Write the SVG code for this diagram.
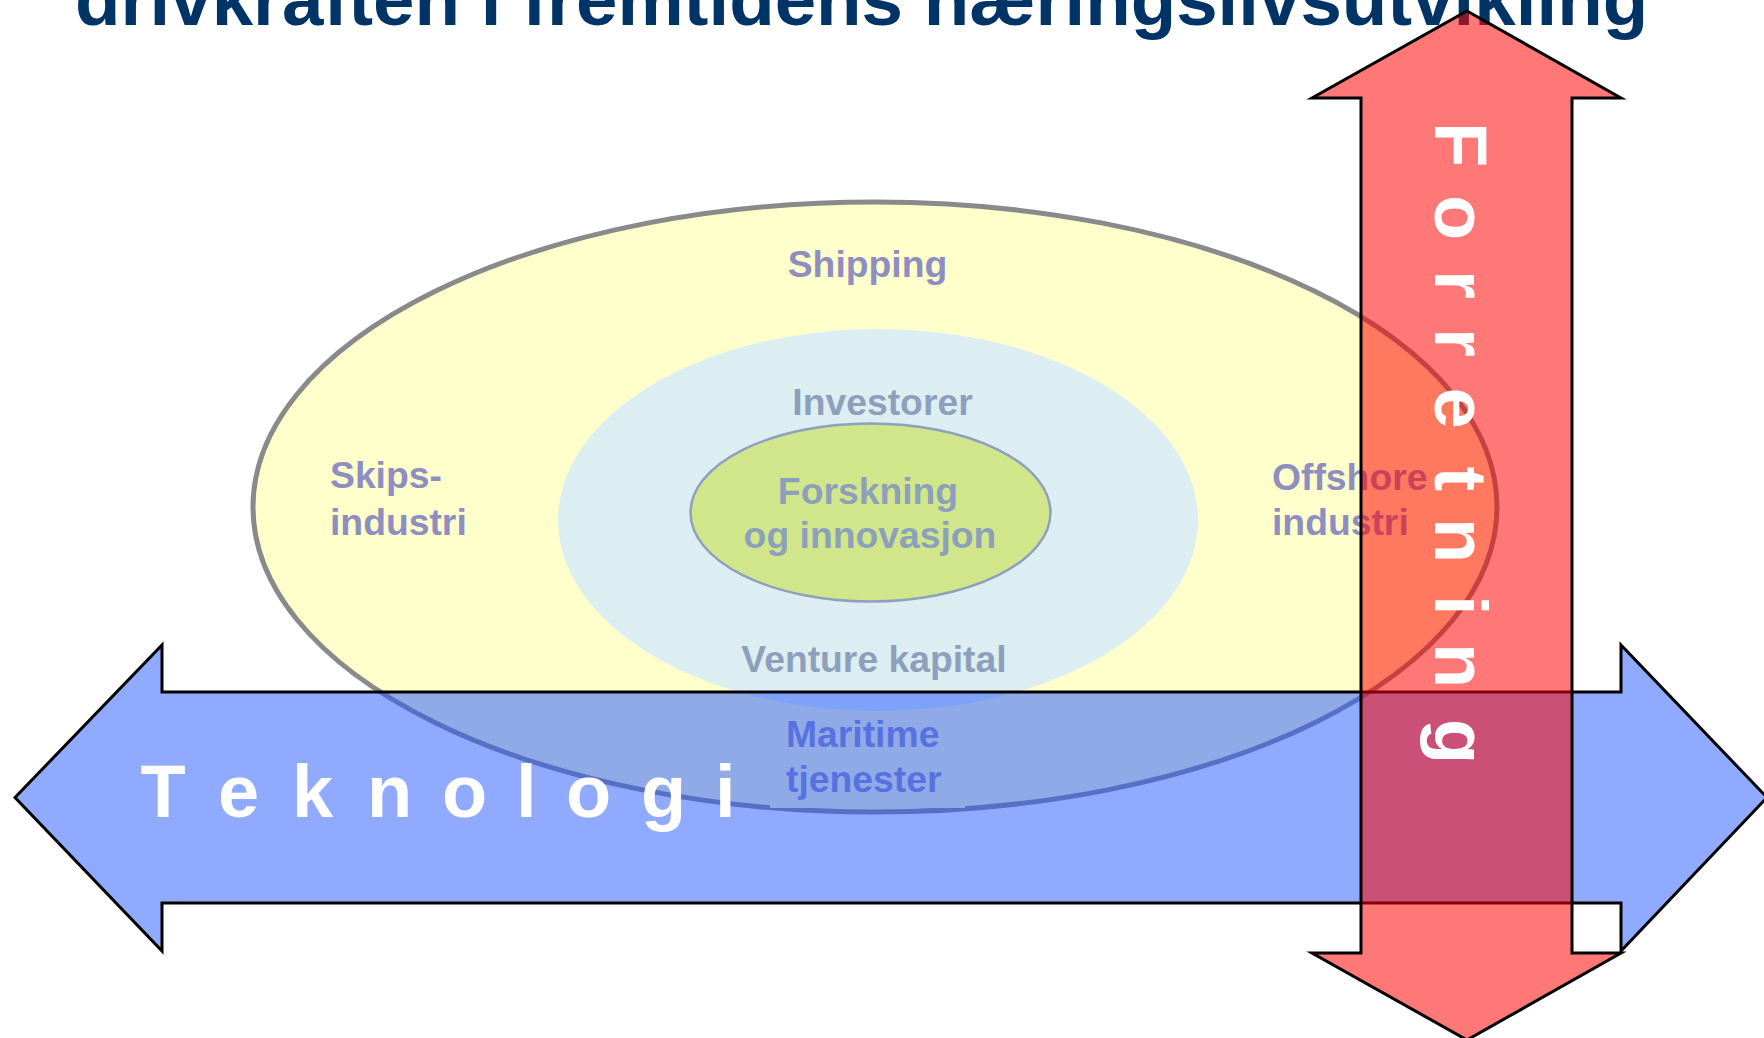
<svg xmlns="http://www.w3.org/2000/svg" width="1764" height="1038" viewBox="0 0 1764 1038">
<style>
text{font-family:"Liberation Sans",Arial,"DejaVu Sans",sans-serif;font-weight:bold}
.lbl{font-size:37.3px;fill:#8E8EC0}
.lbl2{font-size:37.3px;fill:#8DA0BB}
.big{font-size:74px;fill:#FFFFFF}
.arrow{stroke:#000000;stroke-width:3;stroke-linejoin:miter}
</style>
<rect x="0" y="0" width="1764" height="1038" fill="#FFFFFF"/>
<g id="title">
<text x="75" y="25" style="font-size:74.5px;fill:#003366">drivkraften i fremtidens næringslivsutvikling</text>
</g>
<g id="shipping-cluster">
<ellipse cx="875" cy="507" rx="622" ry="305" fill="#FFFFCC" stroke="#8A8A8A" stroke-width="5"/>
<rect x="770" y="716" width="195" height="92" fill="#FFFFCC"/>
<text class="lbl" x="867.5" y="277" text-anchor="middle">Shipping</text>
<text class="lbl" x="330" y="488">Skips-</text>
<text class="lbl" x="330" y="535">industri</text>
<text class="lbl" x="1272" y="490">Offshore</text>
<text class="lbl" x="1272" y="535">industri</text>
<text class="lbl" x="786" y="747">Maritime</text>
<text class="lbl" x="786" y="792">tjenester</text>
</g>
<g id="capital">
<ellipse cx="878" cy="520" rx="320" ry="191" fill="#DDEEF2"/>
<text class="lbl2" x="882.5" y="415" text-anchor="middle">Investorer</text>
<text class="lbl2" x="874" y="672" text-anchor="middle">Venture kapital</text>
</g>
<g id="research">
<ellipse cx="870.5" cy="512.5" rx="180" ry="89" fill="#D1E68A" stroke="#8DA0BE" stroke-width="2.5"/>
<text class="lbl2" x="868" y="504" text-anchor="middle">Forskning</text>
<text class="lbl2" x="870" y="548" text-anchor="middle">og innovasjon</text>
</g>
<g id="connectors">
<g id="teknologi-arrow">
<path class="arrow" d="M15,797.5 L162,645 L162,692 L1621,692 L1621,645 L1767,797.5 L1621,951 L1621,903 L162,903 L162,951 Z" fill="#2055FF" fill-opacity="0.5"/>
</g>
<g id="forretning-arrow">
<path class="arrow" d="M1467,11 L1621,98 L1572,98 L1572,953 L1621,953 L1467,1040 L1312,953 L1361,953 L1361,98 L1312,98 Z" fill="#FF0000" fill-opacity="0.53"/>
</g>
</g>
<g id="teknologi-label">
<text class="big" x="140.5 218 292 367 442 516 566 641 715" y="817">Teknologi</text>
</g>
<g id="forretning-label">
<text class="big" transform="translate(1435,0) rotate(90)" x="122 195 270 328 387.5 466.5 518 595 643 719" y="0">Forretning</text>
</g>
</svg>
